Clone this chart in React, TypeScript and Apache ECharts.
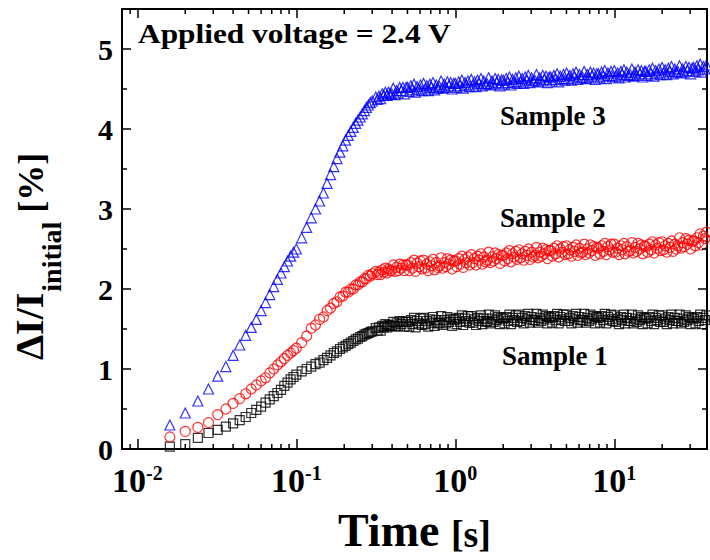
import React, { useEffect, useRef } from "react";
import * as echarts from "echarts";

const FONT = '"Liberation Serif", "Times New Roman", serif';

// Time [s]
const TIME = [
  0.016, 0.020, 0.024, 0.028, 0.032, 0.036, 0.040, 0.044, 0.048, 0.052, 0.056,
  0.060, 0.064, 0.068, 0.072, 0.076, 0.080, 0.084, 0.088, 0.092, 0.096, 0.100,
  0.108, 0.116, 0.124, 0.132, 0.140, 0.148, 0.156, 0.164, 0.172, 0.180, 0.188,
  0.196, 0.204, 0.212, 0.220, 0.228, 0.236, 0.244, 0.252, 0.260, 0.268, 0.276,
  0.284, 0.292, 0.300,
  0.316, 0.324, 0.331, 0.339, 0.347, 0.355, 0.363, 0.372, 0.380, 0.389,
  0.398, 0.407, 0.417, 0.427, 0.437, 0.447, 0.457, 0.468, 0.479, 0.490,
  0.501, 0.513, 0.525, 0.537, 0.550, 0.562, 0.575, 0.589, 0.603, 0.617,
  0.631, 0.646, 0.661, 0.676, 0.692, 0.708, 0.724, 0.741, 0.759, 0.776,
  0.794, 0.813, 0.832, 0.851, 0.871, 0.891, 0.912, 0.933, 0.955, 0.977,
  1.00, 1.02, 1.05, 1.07, 1.10, 1.12, 1.15, 1.17, 1.20, 1.23,
  1.26, 1.29, 1.32, 1.35, 1.38, 1.41, 1.45, 1.48, 1.51, 1.55,
  1.58, 1.62, 1.66, 1.70, 1.74, 1.78, 1.82, 1.86, 1.91, 1.95,
  2.00, 2.04, 2.09, 2.14, 2.19, 2.24, 2.29, 2.34, 2.40, 2.45,
  2.51, 2.57, 2.63, 2.69, 2.75, 2.82, 2.88, 2.95, 3.02, 3.09,
  3.16, 3.24, 3.31, 3.39, 3.47, 3.55, 3.63, 3.72, 3.80, 3.89,
  3.98, 4.07, 4.17, 4.27, 4.37, 4.47, 4.57, 4.68, 4.79, 4.90,
  5.01, 5.13, 5.25, 5.37, 5.50, 5.62, 5.75, 5.89, 6.03, 6.17,
  6.31, 6.46, 6.61, 6.76, 6.92, 7.08, 7.24, 7.41, 7.59, 7.76,
  7.94, 8.13, 8.32, 8.51, 8.71, 8.91, 9.12, 9.33, 9.55, 9.77,
  10.0, 10.2, 10.5, 10.7, 11.0, 11.2, 11.5, 11.7, 12.0, 12.3,
  12.6, 12.9, 13.2, 13.5, 13.8, 14.1, 14.5, 14.8, 15.1, 15.5,
  15.8, 16.2, 16.6, 17.0, 17.4, 17.8, 18.2, 18.6, 19.1, 19.5,
  20.0, 20.4, 20.9, 21.4, 21.9, 22.4, 22.9, 23.4, 24.0, 24.5,
  25.1, 25.7, 26.3, 26.9, 27.5, 28.2, 28.8, 29.5, 30.2, 30.9,
  31.6, 32.4, 33.1, 33.9, 34.7, 35.5, 36.3, 37.2, 38.0,
];

// Sample 1 (black squares), ΔI/I_initial [%]
const SAMPLE1 = [
  0.03, 0.06, 0.14, 0.20, 0.24, 0.28, 0.32, 0.36, 0.40, 0.45, 0.49,
  0.53, 0.58, 0.62, 0.66, 0.70, 0.74, 0.79, 0.83, 0.87, 0.90, 0.93,
  0.97, 1.00, 1.03, 1.06, 1.08, 1.11, 1.14, 1.17, 1.20, 1.22, 1.25,
  1.27, 1.29, 1.31, 1.33, 1.35, 1.37, 1.38, 1.40, 1.41, 1.43, 1.44,
  1.45, 1.46, 1.47,
  1.51, 1.48, 1.52, 1.48, 1.54, 1.52, 1.56, 1.52, 1.55, 1.54,
  1.54, 1.59, 1.53, 1.57, 1.54, 1.60, 1.56, 1.59, 1.53, 1.59,
  1.59, 1.53, 1.61, 1.56, 1.64, 1.52, 1.60, 1.57, 1.63, 1.55,
  1.64, 1.56, 1.60, 1.53, 1.62, 1.58, 1.65, 1.54, 1.61, 1.57,
  1.58, 1.66, 1.55, 1.61, 1.57, 1.65, 1.59, 1.63, 1.54, 1.62,
  1.62, 1.56, 1.64, 1.59, 1.67, 1.55, 1.63, 1.60, 1.66, 1.58,
  1.66, 1.58, 1.62, 1.55, 1.64, 1.60, 1.67, 1.56, 1.63, 1.59,
  1.60, 1.68, 1.57, 1.63, 1.59, 1.67, 1.61, 1.65, 1.56, 1.64,
  1.63, 1.57, 1.65, 1.60, 1.68, 1.56, 1.64, 1.61, 1.67, 1.59,
  1.68, 1.60, 1.64, 1.57, 1.66, 1.62, 1.69, 1.58, 1.65, 1.61,
  1.61, 1.69, 1.58, 1.64, 1.60, 1.68, 1.62, 1.66, 1.57, 1.65,
  1.64, 1.58, 1.66, 1.61, 1.69, 1.57, 1.65, 1.62, 1.68, 1.60,
  1.68, 1.60, 1.64, 1.57, 1.66, 1.62, 1.69, 1.58, 1.65, 1.61,
  1.61, 1.69, 1.58, 1.64, 1.60, 1.68, 1.62, 1.66, 1.57, 1.65,
  1.64, 1.58, 1.66, 1.61, 1.69, 1.57, 1.65, 1.62, 1.68, 1.60,
  1.67, 1.59, 1.63, 1.56, 1.65, 1.61, 1.68, 1.57, 1.64, 1.60,
  1.60, 1.68, 1.57, 1.63, 1.59, 1.67, 1.61, 1.65, 1.56, 1.64,
  1.63, 1.57, 1.65, 1.60, 1.68, 1.56, 1.64, 1.61, 1.67, 1.59,
  1.67, 1.59, 1.63, 1.56, 1.65, 1.61, 1.68, 1.57, 1.64, 1.60,
  1.60, 1.68, 1.57, 1.63, 1.59, 1.67, 1.61, 1.65, 1.56, 1.64,
  1.63, 1.57, 1.65, 1.60, 1.68, 1.56, 1.64, 1.61, 1.67,
];

// Sample 2 (red circles)
const SAMPLE2 = [
  0.15, 0.22, 0.27, 0.33, 0.43, 0.50, 0.57, 0.63, 0.69, 0.75, 0.80,
  0.85, 0.89, 0.95, 1.00, 1.05, 1.09, 1.13, 1.17, 1.20, 1.23, 1.26,
  1.33, 1.41, 1.51, 1.55, 1.62, 1.65, 1.73, 1.76, 1.82, 1.84, 1.90,
  1.91, 1.96, 1.96, 2.00, 2.00, 2.05, 2.05, 2.09, 2.09, 2.13, 2.13,
  2.17, 2.16, 2.19,
  2.22, 2.18, 2.21, 2.18, 2.24, 2.21, 2.26, 2.20, 2.25, 2.23,
  2.23, 2.30, 2.22, 2.27, 2.23, 2.31, 2.26, 2.30, 2.23, 2.30,
  2.30, 2.23, 2.33, 2.26, 2.36, 2.22, 2.32, 2.28, 2.35, 2.25,
  2.36, 2.26, 2.31, 2.23, 2.34, 2.29, 2.37, 2.24, 2.33, 2.27,
  2.29, 2.39, 2.26, 2.33, 2.28, 2.38, 2.31, 2.36, 2.25, 2.35,
  2.35, 2.28, 2.38, 2.31, 2.41, 2.27, 2.37, 2.33, 2.40, 2.30,
  2.43, 2.33, 2.38, 2.30, 2.41, 2.36, 2.44, 2.31, 2.40, 2.34,
  2.36, 2.46, 2.33, 2.40, 2.35, 2.45, 2.38, 2.43, 2.32, 2.42,
  2.42, 2.35, 2.45, 2.38, 2.48, 2.34, 2.44, 2.40, 2.47, 2.37,
  2.49, 2.39, 2.44, 2.36, 2.47, 2.42, 2.50, 2.37, 2.46, 2.40,
  2.42, 2.52, 2.39, 2.46, 2.41, 2.51, 2.44, 2.49, 2.38, 2.48,
  2.48, 2.41, 2.51, 2.44, 2.54, 2.40, 2.50, 2.46, 2.53, 2.43,
  2.54, 2.44, 2.49, 2.41, 2.52, 2.47, 2.55, 2.42, 2.51, 2.45,
  2.46, 2.56, 2.43, 2.50, 2.45, 2.55, 2.48, 2.53, 2.42, 2.52,
  2.51, 2.44, 2.54, 2.47, 2.57, 2.43, 2.53, 2.49, 2.56, 2.46,
  2.56, 2.46, 2.51, 2.43, 2.54, 2.49, 2.57, 2.44, 2.53, 2.47,
  2.48, 2.58, 2.45, 2.52, 2.47, 2.57, 2.50, 2.55, 2.44, 2.54,
  2.53, 2.46, 2.56, 2.49, 2.59, 2.45, 2.55, 2.51, 2.58, 2.48,
  2.59, 2.49, 2.54, 2.46, 2.57, 2.52, 2.60, 2.47, 2.56, 2.50,
  2.54, 2.64, 2.51, 2.58, 2.53, 2.63, 2.56, 2.61, 2.50, 2.60,
  2.60, 2.54, 2.64, 2.58, 2.69, 2.55, 2.66, 2.63, 2.71,
];

// Sample 3 (blue triangles)
const SAMPLE3 = [
  0.30, 0.45, 0.60, 0.75, 0.91, 1.03, 1.17, 1.30, 1.42, 1.52, 1.62,
  1.73, 1.83, 1.93, 2.03, 2.12, 2.20, 2.28, 2.35, 2.41, 2.46, 2.50,
  2.64, 2.77, 2.89, 3.00, 3.10, 3.20, 3.32, 3.43, 3.53, 3.63, 3.71,
  3.79, 3.86, 3.92, 3.97, 4.02, 4.07, 4.11, 4.15, 4.19, 4.23, 4.27,
  4.30, 4.33, 4.35,
  4.40, 4.37, 4.41, 4.38, 4.44, 4.42, 4.46, 4.42, 4.46, 4.44,
  4.44, 4.51, 4.43, 4.48, 4.45, 4.52, 4.48, 4.52, 4.44, 4.52,
  4.52, 4.47, 4.54, 4.49, 4.56, 4.46, 4.53, 4.50, 4.55, 4.48,
  4.57, 4.50, 4.54, 4.48, 4.56, 4.52, 4.58, 4.49, 4.55, 4.51,
  4.53, 4.60, 4.51, 4.56, 4.52, 4.59, 4.54, 4.58, 4.50, 4.57,
  4.57, 4.52, 4.59, 4.54, 4.61, 4.51, 4.58, 4.55, 4.60, 4.53,
  4.62, 4.55, 4.59, 4.53, 4.61, 4.57, 4.63, 4.54, 4.60, 4.56,
  4.57, 4.64, 4.55, 4.60, 4.56, 4.63, 4.58, 4.62, 4.54, 4.61,
  4.61, 4.56, 4.63, 4.58, 4.65, 4.55, 4.62, 4.59, 4.64, 4.57,
  4.66, 4.59, 4.63, 4.57, 4.65, 4.61, 4.67, 4.58, 4.64, 4.60,
  4.61, 4.68, 4.59, 4.64, 4.60, 4.67, 4.62, 4.66, 4.58, 4.65,
  4.65, 4.60, 4.67, 4.62, 4.69, 4.59, 4.66, 4.63, 4.68, 4.61,
  4.70, 4.63, 4.67, 4.61, 4.69, 4.65, 4.71, 4.62, 4.68, 4.64,
  4.65, 4.72, 4.63, 4.68, 4.64, 4.71, 4.66, 4.70, 4.62, 4.69,
  4.69, 4.64, 4.71, 4.66, 4.73, 4.63, 4.70, 4.67, 4.72, 4.65,
  4.73, 4.66, 4.70, 4.64, 4.72, 4.68, 4.74, 4.65, 4.71, 4.67,
  4.68, 4.75, 4.66, 4.71, 4.67, 4.74, 4.69, 4.73, 4.65, 4.72,
  4.72, 4.67, 4.74, 4.69, 4.76, 4.66, 4.73, 4.70, 4.75, 4.68,
  4.77, 4.70, 4.74, 4.68, 4.76, 4.72, 4.78, 4.69, 4.75, 4.71,
  4.72, 4.79, 4.70, 4.75, 4.71, 4.78, 4.73, 4.77, 4.69, 4.76,
  4.77, 4.72, 4.79, 4.74, 4.81, 4.71, 4.78, 4.75, 4.80,
];

const SERIES_NAMES = ["Sample 1", "Sample 2", "Sample 3"];
const SERIES_COLORS = ["#000000", "#ff0000", "#0000ff"];
const SERIES_SYMBOLS = ["rect", "circle", "triangle"];
const SERIES_SIZES = [9, 10, 10];

const X_MIN = 0.008;
const X_MAX = 38.3;
const Y_MIN = 0;
const Y_MAX = 5.5;
const X_MINOR_TICKS = [
  0.009, 0.02, 0.03, 0.04, 0.05, 0.06, 0.07, 0.08, 0.09,
  0.2, 0.3, 0.4, 0.5, 0.6, 0.7, 0.8, 0.9,
  2, 3, 4, 5, 6, 7, 8, 9, 20, 30,
];
const Y_MINOR_TICKS = [0.5, 1.5, 2.5, 3.5, 4.5];
const ANNOTATION = "Applied voltage = 2.4 V";

function measure(text: string, size: number): number {
  const c = document.createElement("canvas").getContext("2d");
  if (!c) return text.length * size * 0.5;
  c.font = `bold ${size}px "Liberation Serif"`;
  return c.measureText(text).width;
}

export default function App() {
  const ref = useRef<HTMLDivElement>(null);

  useEffect(() => {
    if (!ref.current) return;
    const chart = echarts.init(ref.current, null, { renderer: "svg" });

    const samples = [SAMPLE1, SAMPLE2, SAMPLE3];
    const scatterSeries = samples.map((vals, i) => ({
      name: SERIES_NAMES[i],
      type: "scatter",
      data: TIME.map((t, j) => [t, vals[j]]),
      symbol: SERIES_SYMBOLS[i],
      symbolSize: SERIES_SIZES[i],
      itemStyle: {
        color: "rgba(0,0,0,0)",
        borderColor: SERIES_COLORS[i],
        borderWidth: 1.2,
      },
      silent: true,
      z: 3 + i,
    }));

    const tickStyle = { stroke: "#000", lineWidth: 1.5 };

    const xMinorSeries = {
      type: "custom",
      silent: true,
      clip: false,
      z: 10,
      data: X_MINOR_TICKS.map((v) => [v, 0]),
      renderItem: (params: any, api: any) => {
        const pb = api.coord([api.value(0), Y_MIN]);
        const pt = api.coord([api.value(0), Y_MAX]);
        return {
          type: "group",
          children: [
            { type: "line", shape: { x1: pb[0], y1: pb[1], x2: pb[0], y2: pb[1] - 5 }, style: tickStyle },
            { type: "line", shape: { x1: pt[0], y1: pt[1], x2: pt[0], y2: pt[1] + 5 }, style: tickStyle },
          ],
        };
      },
    };

    const yMinorSeries = {
      type: "custom",
      silent: true,
      clip: false,
      z: 10,
      data: Y_MINOR_TICKS.map((v) => [X_MIN, v]),
      renderItem: (params: any, api: any) => {
        const pl = api.coord([X_MIN, api.value(1)]);
        const pr = api.coord([X_MAX, api.value(1)]);
        return {
          type: "group",
          children: [
            { type: "line", shape: { x1: pl[0], y1: pl[1], x2: pl[0] + 5, y2: pl[1] }, style: tickStyle },
            { type: "line", shape: { x1: pr[0], y1: pr[1], x2: pr[0] - 5, y2: pr[1] }, style: tickStyle },
          ],
        };
      },
    };

    const axisLine = { show: true, onZero: false, lineStyle: { color: "#000", width: 2 } };
    const majorTick = { show: true, inside: true, length: 9, lineStyle: { color: "#000", width: 1.5 } };

    const mainTxt = "ΔI/I";
    const subTxt = "initial";
    const unitTxt = "[%]";
    const mainW = measure(mainTxt, 40);
    const subW = measure(subTxt, 28);

    const option: any = {
      animation: false,
      backgroundColor: "#ffffff",
      grid: { left: 122, right: -3, top: 9, bottom: 111, containLabel: false },
      xAxis: [
        {
          type: "log",
          logBase: 10,
          min: X_MIN,
          max: X_MAX,
          position: "bottom",
          axisLine,
          axisTick: { ...majorTick, length: 10 },
          splitLine: { show: false },
          axisLabel: {
            interval: 0,
            margin: 14,
            formatter: (v: number) => {
              const e = Math.log10(v);
              const r = Math.round(e);
              if (Math.abs(e - r) > 0.01) return "";
              return `{b|10}{s|${r}}`;
            },
            rich: {
              b: { fontSize: 34, fontWeight: "bold", fontFamily: FONT, color: "#000", lineHeight: 34 },
              s: { fontSize: 20, fontWeight: "bold", fontFamily: FONT, color: "#000", verticalAlign: "top", lineHeight: 20 },
            },
          },
          name: "{t|Time }{u|[s]}",
          nameLocation: "middle",
          nameGap: 58,
          nameTextStyle: {
            rich: {
              t: { fontSize: 46, fontWeight: "bold", fontFamily: FONT, color: "#000", verticalAlign: "bottom" },
              u: { fontSize: 38, fontWeight: "bold", fontFamily: FONT, color: "#000", verticalAlign: "bottom" },
            },
          },
        },
        {
          type: "log",
          logBase: 10,
          min: X_MIN,
          max: X_MAX,
          position: "top",
          axisLine,
          axisTick: majorTick,
          axisLabel: { show: false },
          splitLine: { show: false },
        },
      ],
      yAxis: [
        {
          type: "value",
          min: Y_MIN,
          max: Y_MAX,
          interval: 1,
          position: "left",
          axisLine,
          axisTick: majorTick,
          splitLine: { show: false },
          axisLabel: {
            margin: 9,
            fontSize: 30,
            fontWeight: "bold",
            fontFamily: FONT,
            color: "#000",
            formatter: (v: number) => (Math.abs(v - Math.round(v)) < 1e-6 ? String(Math.round(v)) : ""),
          },
        },
        {
          type: "value",
          min: Y_MIN,
          max: Y_MAX,
          interval: 1,
          position: "right",
          axisLine,
          axisTick: majorTick,
          axisLabel: { show: false },
          splitLine: { show: false },
        },
      ],
      series: [...scatterSeries, xMinorSeries, yMinorSeries],
      graphic: [
        {
          type: "text",
          x: 138,
          y: 33.5,
          scaleX: 1.12,
          silent: true,
          style: { text: ANNOTATION, fontSize: 28, fontWeight: "bold", fontFamily: FONT, fill: "#000", align: "left", verticalAlign: "middle" },
        },
        {
          type: "text",
          x: 500,
          y: 115.8,
          silent: true,
          style: { text: SERIES_NAMES[2], fontSize: 27, fontWeight: "bold", fontFamily: FONT, fill: "#000", align: "left", verticalAlign: "middle" },
        },
        {
          type: "text",
          x: 500,
          y: 217.5,
          silent: true,
          style: { text: SERIES_NAMES[1], fontSize: 27, fontWeight: "bold", fontFamily: FONT, fill: "#000", align: "left", verticalAlign: "middle" },
        },
        {
          type: "text",
          x: 502,
          y: 355.8,
          silent: true,
          style: { text: SERIES_NAMES[0], fontSize: 27, fontWeight: "bold", fontFamily: FONT, fill: "#000", align: "left", verticalAlign: "middle" },
        },
        {
          type: "group",
          x: 43,
          y: 360,
          rotation: Math.PI / 2,
          silent: true,
          children: [
            {
              type: "text",
              x: 0,
              y: -13.5,
              style: { text: mainTxt, fontSize: 40, fontWeight: "bold", fontFamily: FONT, fill: "#000", align: "left", verticalAlign: "middle" },
            },
            {
              type: "text",
              x: mainW + 1,
              y: 8.5,
              style: { text: subTxt, fontSize: 28, fontWeight: "bold", fontFamily: FONT, fill: "#000", align: "left", verticalAlign: "middle" },
            },
            {
              type: "text",
              x: mainW + 1 + subW + 9,
              y: -12,
              style: { text: unitTxt, fontSize: 36, fontWeight: "bold", fontFamily: FONT, fill: "#000", align: "left", verticalAlign: "middle" },
            },
          ],
        },
      ],
    };

    chart.setOption(option);
    return () => chart.dispose();
  }, []);

  return (
    <div
      ref={ref}
      style={{ position: "absolute", left: 0, top: 0, width: 710, height: 560, background: "#fff" }}
    />
  );
}
